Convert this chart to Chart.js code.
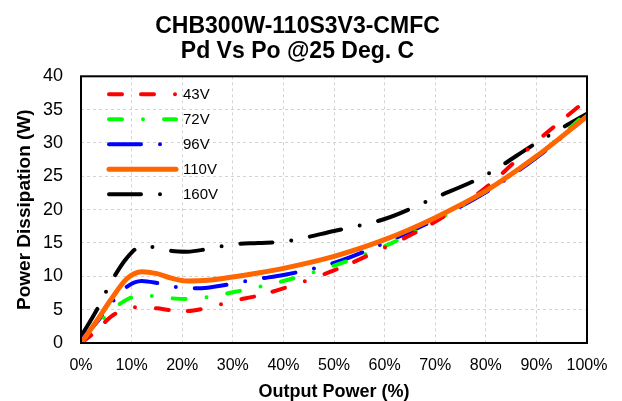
<!DOCTYPE html>
<html>
<head>
<meta charset="utf-8">
<script src="https://cdn.jsdelivr.net/npm/chart.js@4.4.1/dist/chart.umd.min.js"></script>
<style>
  html, body { margin: 0; padding: 0; background: #fff; }
  #wrap { width: 622px; height: 401px; }
</style>
</head>
<body>
<div id="wrap"><canvas id="mygraph"></canvas></div>
<script>
// output power (%) sample points, shared by all curves
var load = [0, 3, 6, 9, 12, 15, 18, 21, 25, 30, 35, 40, 50, 60, 70, 80, 90, 100];

var v43  = [0, 1.8, 4.0, 5.1, 5.4, 5.2, 4.9, 4.8, 5.3, 6.3, 7.1, 8.2, 10.9, 14.3, 18.2, 23.3, 30.2, 36.5];
var v72  = [0, 2.5, 4.8, 6.5, 7.1, 7.0, 6.7, 6.6, 6.9, 7.6, 8.4, 9.3, 11.6, 14.5, 18.3, 22.8, 28.0, 34.5];
var v96  = [0.5, 3.0, 6.0, 8.4, 9.3, 9.0, 8.5, 8.2, 8.3, 8.9, 9.6, 10.2, 12.0, 15.0, 18.5, 22.6, 27.8, 34.0];
var v110 = [0, 3.2, 6.6, 9.6, 10.7, 10.4, 9.7, 9.3, 9.4, 9.9, 10.5, 11.2, 13.0, 15.5, 18.8, 22.8, 28.0, 34.0];
var v160 = [1.0, 4.8, 9.2, 12.7, 14.5, 14.3, 13.8, 13.7, 14.1, 14.8, 15.0, 15.2, 16.8, 18.6, 21.8, 25.2, 30.0, 34.4];

var names = ["43V", "72V", "96V", "110V", "160V"];
var yTicks = [0, 5, 10, 15, 20, 25, 30, 35, 40];
var xTicks = [0, 10, 20, 30, 40, 50, 60, 70, 80, 90, 100];

var FONT = "Liberation Sans, Arial, sans-serif";

function pts(vals) {
  return load.map(function (x, i) { return { x: x, y: vals[i] }; });
}

function line(label, vals, color, dash, width, order) {
  return {
    label: label,
    data: pts(vals),
    borderColor: color,
    backgroundColor: color,
    borderWidth: width,
    borderDash: dash,
    borderCapStyle: "round",
    pointRadius: 0,
    fill: false,
    cubicInterpolationMode: "monotone",
    order: order
  };
}

// frame around the plot area
var frame = {
  id: "frame",
  afterDatasetsDraw: function (c) {
    var a = c.chartArea, ctx = c.ctx;
    ctx.save();
    ctx.strokeStyle = "#000";
    ctx.lineWidth = 2;
    ctx.strokeRect(a.left, a.top, a.right - a.left, a.bottom - a.top);
    ctx.restore();
  }
};

// legend drawn inside the plot, top left, with the dash style of each line
var insideLegend = {
  id: "insideLegend",
  afterDraw: function (c) {
    var a = c.chartArea, ctx = c.ctx;
    ctx.save();
    c.data.datasets.forEach(function (ds, i) {
      var y = a.top + 18 + i * 25;
      ctx.beginPath();
      ctx.setLineDash(ds.borderDash);
      ctx.lineCap = "round";
      ctx.lineWidth = ds.borderWidth;
      ctx.strokeStyle = ds.borderColor;
      ctx.moveTo(a.left + 28, y);
      ctx.lineTo(a.left + 95, y);
      ctx.stroke();
      ctx.setLineDash([]);
      ctx.fillStyle = "#000";
      ctx.font = "15px " + FONT;
      ctx.textBaseline = "middle";
      ctx.textAlign = "left";
      ctx.fillText(ds.label, a.left + 102, y + 1);
    });
    ctx.restore();
  }
};

var ctx = document.getElementById("mygraph");

var mygraph = new Chart(ctx, {
  type: "line",
  data: {
    datasets: [
      line(names[0], v43, "#ff0000", [13, 19, 13, 21, 0, 21], 4, 0),
      line(names[1], v72, "#00ff00", [13, 21, 0, 21], 4, 1),
      line(names[2], v96, "#0000ff", [32, 19, 0, 19], 4, 2),
      line(names[3], v110, "#ff6600", [], 5, -1),
      line(names[4], v160, "#000000", [32, 19, 0, 19], 4, 3)
    ]
  },
  plugins: [frame, insideLegend],
  options: {
    responsive: true,
    maintainAspectRatio: false,
    animation: false,
    layout: { padding: { left: 8, right: 35, top: 0, bottom: 0 } },
    plugins: {
      title: {
        display: true,
        text: ["CHB300W-110S3V3-CMFC", "Pd Vs Po @25 Deg. C"],
        color: "#000",
        font: { family: FONT, size: 23, weight: "bold", lineHeight: 1.05 },
        padding: { top: 15, bottom: 13 }
      },
      legend: { display: false },
      tooltip: { enabled: false }
    },
    scales: {
      x: {
        type: "linear",
        min: 0,
        max: 100,
        afterBuildTicks: function (s) { s.ticks = xTicks.map(function (v) { return { value: v }; }); },
        afterFit: function (s) { s.height = 58; },
        ticks: {
          color: "#000",
          padding: 13,
          font: { family: FONT, size: 16 },
          callback: function (v) { return v + "%"; }
        },
        grid: { color: "#d3d3d3", drawTicks: false, lineWidth: 1 },
        border: { display: false, dash: [3, 3] },
        title: {
          display: true,
          text: "Output Power (%)",
          color: "#000",
          font: { family: FONT, size: 18, weight: "bold", lineHeight: 1 },
          padding: { top: 8, bottom: 0 }
        }
      },
      y: {
        min: 0,
        max: 40,
        afterBuildTicks: function (s) { s.ticks = yTicks.map(function (v) { return { value: v }; }); },
        afterFit: function (s) { s.width = 73; },
        ticks: {
          color: "#000",
          padding: 18,
          font: { family: FONT, size: 18 }
        },
        grid: { color: "#d3d3d3", drawTicks: false, lineWidth: 1 },
        border: { display: false, dash: [3, 3] },
        title: {
          display: true,
          text: "Power Dissipation (W)",
          color: "#000",
          font: { family: FONT, size: 19, weight: "bold", lineHeight: 1.2 },
          padding: { top: 5, bottom: 7 }
        }
      }
    }
  }
});
</script>
</body>
</html>
